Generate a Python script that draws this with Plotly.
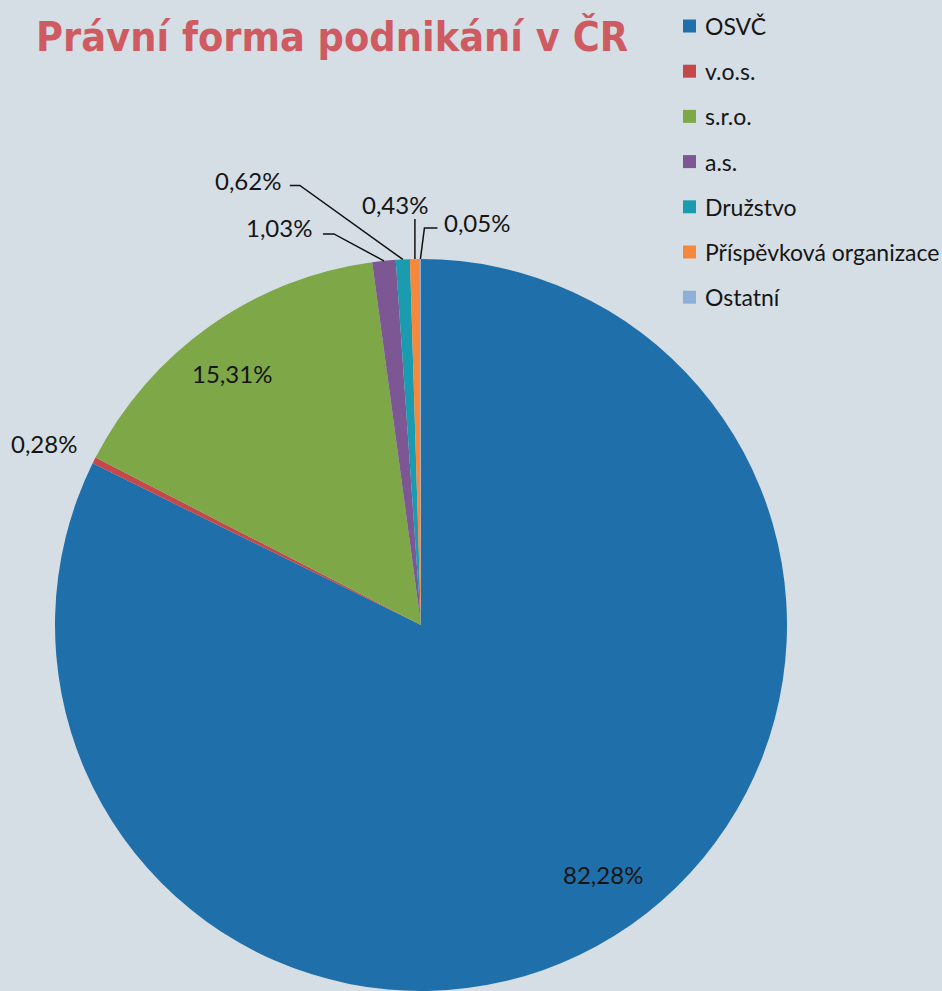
import math
import plotly.graph_objects as go

# ---- data ----
labels = ["OSVČ", "v.o.s.", "s.r.o.", "a.s.", "Družstvo", "Příspěvková organizace", "Ostatní"]
values = [82.28, 0.28, 15.31, 1.03, 0.62, 0.43, 0.05]
colors = ["#1F70AA", "#C4474A", "#7EA747", "#7D5794", "#1B9BB0", "#F5883A", "#8EB0D6"]
title_text = "Právní forma podnikání v ČR"

# ---- layout constants (pixels) ----
W, H = 942, 991
CX, CY, R = 421, 625, 366
BG = "#D5DEE4"
FONT = "Lato, 'Open Sans', sans-serif"
TXT = "#151515"

def px(x):
    return x / W

def py(y):
    return 1 - y / H

fig = go.Figure(go.Pie(
    labels=labels, values=values, sort=False, direction="clockwise", rotation=0,
    marker=dict(colors=colors, line=dict(width=0)),
    textinfo="none", hoverinfo="label+percent", showlegend=False,
    domain=dict(x=[px(CX - R), px(CX + R)], y=[py(CY + R), py(CY - R)]),
))

total = sum(values)
cum = 0
mids = []
for v in values:
    mids.append((cum + v / 2) / total * 2 * math.pi)
    cum += v

def polar(a, r):
    return CX + r * math.sin(a), CY - r * math.cos(a)

def fmt(v):
    return f"{v:.2f}".replace(".", ",") + "%"

# label styles: inside (radial fraction, angle nudge in deg) or outside with leader (offsets from slice edge)
style = {
    0: dict(kind="in", rf=0.845, dang=-4.2),
    1: dict(kind="out", lab=(-50, -17), anchor="center", path=None),
    2: dict(kind="in", rf=0.86, dang=-1.6),
    3: dict(kind="out", lab=(-70, -33), anchor="right", path=[(0, 0), (-50, -27), (-61, -27)]),
    4: dict(kind="out", lab=(-120, -79), anchor="right", path=[(0, 0), (-103, -74), (-113, -74)]),
    5: dict(kind="out", lab=(-20, -55), anchor="center", path=[(0, 0), (0, -40)]),
    6: dict(kind="out", lab=(22, -37), anchor="left", path=[(0, 0), (4, -31), (17, -31)]),
}

annotations = []
shapes = []
for i, v in enumerate(values):
    s = style[i]
    if s["kind"] == "in":
        x, y = polar(mids[i] + math.radians(s["dang"]), R * s["rf"])
        anchor = "center"
    else:
        ex, ey = polar(mids[i], R)
        x, y = ex + s["lab"][0], ey + s["lab"][1]
        anchor = s["anchor"]
        if s["path"]:
            pts = [(ex + dx, ey + dy) for dx, dy in s["path"]]
            d = "M " + " L ".join(f"{px(a):.5f},{py(b):.5f}" for a, b in pts)
            shapes.append(dict(type="path", path=d, xref="paper", yref="paper",
                               line=dict(color="#111111", width=1.5)))
    annotations.append(dict(text=fmt(v), x=px(x), y=py(y), xref="paper", yref="paper",
                            xanchor=anchor, yanchor="middle", showarrow=False,
                            font=dict(family=FONT, size=24, color=TXT)))

# custom legend
LX, LY0, LDY, SW = 683, 26, 45.2, 13
for i, lab in enumerate(labels):
    yc = LY0 + i * LDY
    shapes.append(dict(type="rect", xref="paper", yref="paper",
                       x0=px(LX), x1=px(LX + SW), y0=py(yc + SW / 2), y1=py(yc - SW / 2),
                       fillcolor=colors[i], line=dict(width=0)))
    annotations.append(dict(text=lab, x=px(LX + 20), y=py(yc), xref="paper", yref="paper",
                            xanchor="left", yanchor="middle", showarrow=False,
                            font=dict(family=FONT, size=23, color=TXT)))

# title
annotations.append(dict(text=f"<b>{title_text}</b>", x=px(332), y=py(37), xref="paper", yref="paper",
                        xanchor="center", yanchor="middle", showarrow=False,
                        font=dict(family="'DejaVu Sans Condensed', sans-serif",
                                  size=41, color="#CF5B62")))

fig.update_layout(
    width=W, height=H, margin=dict(l=0, r=0, t=0, b=0),
    paper_bgcolor=BG, plot_bgcolor=BG,
    annotations=annotations, shapes=shapes, showlegend=False,
)

fig.write_html("out.html")
